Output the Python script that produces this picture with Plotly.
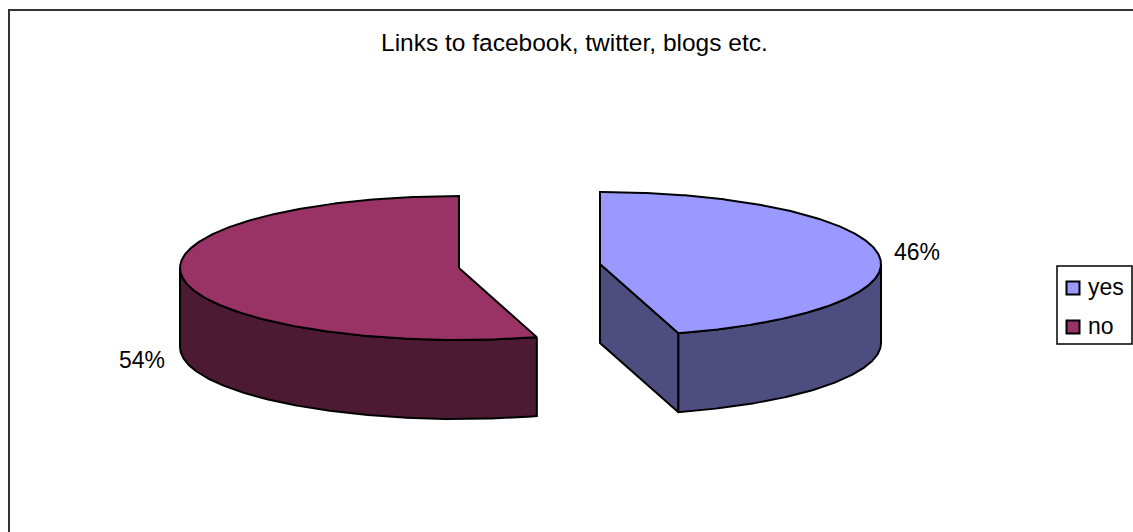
import numpy as np
import plotly.graph_objects as go

# Data
categories = ["yes", "no"]
values = [45.5, 54.5]
pct_labels = ["46%", "54%"]
title_text = "Links to facebook, twitter, blogs etc."

# Styles
top_colors = ["#9999FF", "#993366"]
side_colors = ["#4D4D80", "#4D1A33"]
FONT = "Liberation Sans, Arial, sans-serif"
W, H = 1133, 532

# Projection of each exploded slice onto the page (page pixels, y downwards)
centers = [(600, 264), (459, 268)]
rx = [281, 279]
ry = [72, 72]
DEPTH = 79


def ellipse(i, deg):
    t = np.radians(deg)
    return centers[i][0] + rx[i] * np.sin(t), centers[i][1] - ry[i] * np.cos(t)


def arc(i, a, b):
    n = max(2, int(abs(b - a) * 2))
    return ellipse(i, np.linspace(a, b, n))


def poly(fig, xs, ys, color):
    fig.add_trace(go.Scatter(
        x=list(xs) + [xs[0]], y=list(ys) + [ys[0]], mode="lines", fill="toself",
        fillcolor=color, line=dict(color="black", width=2),
        hoverinfo="skip", showlegend=False))


fig = go.Figure()
total = sum(values)
start = 0.0
for i, v in enumerate(values):
    end = start + 360.0 * v / total
    cx, cy = centers[i]
    # cut faces that turn towards the viewer
    if end < 180:
        ex, ey = ellipse(i, end)
        poly(fig, [cx, ex, ex, cx], [cy, ey, ey + DEPTH, cy + DEPTH], side_colors[i])
    if start > 180:
        ex, ey = ellipse(i, start)
        poly(fig, [cx, ex, ex, cx], [cy, ey, ey + DEPTH, cy + DEPTH], side_colors[i])
    # outer wall (front half of the rim only)
    a, b = max(start, 90.0), min(end, 270.0)
    if b > a:
        ax_, ay_ = arc(i, a, b)
        xs = np.concatenate([ax_, ax_[::-1]])
        ys = np.concatenate([ay_, ay_[::-1] + DEPTH])
        poly(fig, xs, ys, side_colors[i])
    # top face
    ax_, ay_ = arc(i, start, end)
    poly(fig, np.concatenate([[cx], ax_]), np.concatenate([[cy], ay_]), top_colors[i])
    start = end

fig.update_xaxes(range=[0, W], visible=False, fixedrange=True)
fig.update_yaxes(range=[H, 0], visible=False, fixedrange=True)

shapes = [
    dict(type="rect", x0=9, y0=10, x1=W + 10, y1=H + 10,
         line=dict(color="#333333", width=2), layer="below"),
    dict(type="rect", x0=1057, y0=266, x1=1132, y1=344,
         line=dict(color="black", width=1.5), fillcolor="white"),
]
swatch_y = [288, 327]
for i, c in enumerate(categories):
    shapes.append(dict(type="rect", x0=1066.5, x1=1079.5, y0=swatch_y[i] - 6.5, y1=swatch_y[i] + 6.5,
                       fillcolor=top_colors[i], line=dict(color="black", width=2)))

annotations = [
    dict(x=574, y=42, text=title_text, showarrow=False, xref="x", yref="y",
         font=dict(family=FONT, size=24.5, color="black")),
    dict(x=917, y=252, text=pct_labels[0], showarrow=False, font=dict(family=FONT, size=23, color="black")),
    dict(x=142, y=360, text=pct_labels[1], showarrow=False, font=dict(family=FONT, size=23, color="black")),
]
for i, c in enumerate(categories):
    annotations.append(dict(x=1086, y=swatch_y[i] - 1, text=c, showarrow=False, xanchor="left",
                            font=dict(family=FONT, size=23, color="black")))

fig.update_layout(width=W, height=H, margin=dict(l=0, r=0, t=0, b=0),
                  paper_bgcolor="white", plot_bgcolor="white",
                  shapes=shapes, annotations=annotations, showlegend=False)
fig.write_html("out.html", config=dict(displayModeBar=False),
               post_script="document.body.style.margin='0';")
